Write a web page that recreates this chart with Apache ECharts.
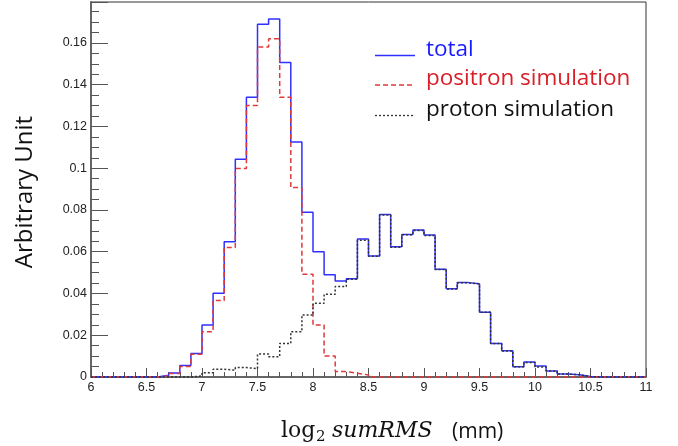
<!DOCTYPE html>
<html>
<head>
<meta charset="utf-8">
<script src="https://cdn.jsdelivr.net/npm/echarts@6/dist/echarts.min.js"></script>
<style>
html,body{margin:0;padding:0;background:#fff;}
#chart{width:678px;height:446px;}
</style>
</head>
<body>
<div id="chart"></div>
<script>
// Bin lower edges (bin width 0.1) from 6.0 to 10.9, upper edge of last bin 11.0
const binLow = [6.0,6.1,6.2,6.3,6.4,6.5,6.6,6.7,6.8,6.9,
                7.0,7.1,7.2,7.3,7.4,7.5,7.6,7.7,7.8,7.9,
                8.0,8.1,8.2,8.3,8.4,8.5,8.6,8.7,8.8,8.9,
                9.0,9.1,9.2,9.3,9.4,9.5,9.6,9.7,9.8,9.9,
                10.0,10.1,10.2,10.3,10.4,10.5,10.6,10.7,10.8,10.9];
const lastEdge = 11.0;

const totalVals = [0,0,0,0,0,0,0.0008,0.0019,0.0055,0.0113,
                   0.0249,0.0401,0.0648,0.1043,0.134,0.169,0.1715,0.1506,0.1126,0.0789,
                   0.060,0.0490,0.0460,0.0470,0.0661,0.0580,0.0778,0.0624,0.0683,0.0704,
                   0.0680,0.0516,0.0423,0.0452,0.0447,0.0310,0.0161,0.0126,0.0049,0.0072,
                   0.0053,0.0029,0.0014,0.0011,0.0002,0,0,0,0,0];

const positronVals = [0,0,0,0,0,0,0.0006,0.0017,0.0050,0.0109,
                      0.0217,0.0366,0.0620,0.0998,0.130,0.158,0.162,0.134,0.0907,0.0492,
                      0.0249,0.0100,0.0026,0.0018,0.0010,0,0,0,0,0,
                      0,0,0,0,0,0,0,0,0,0,
                      0,0,0,0,0,0,0,0,0,0];

const protonVals = [0,0,0,0,0,0,0,0,0,0.0005,
                    0.0020,0.0037,0.0033,0.0045,0.0040,0.0110,0.0097,0.0161,0.0217,0.0297,
                    0.0353,0.0396,0.0433,0.0468,0.0655,0.0578,0.0776,0.0622,0.0681,0.0702,
                    0.0678,0.0515,0.0422,0.0451,0.0446,0.0310,0.0160,0.0125,0.0049,0.0070,
                    0.0048,0.0029,0.0014,0.0011,0.0002,0,0,0,0,0];

const seriesNames = ['total', 'positron simulation', 'proton simulation'];
const seriesColors = ['#3030ff', '#e03a3a', '#333333'];
const legendTextColors = ['#1a1aff', '#d9202a', '#111111'];

const xTicks = {min: 6, max: 11, interval: 0.5};
const yTicks = {min: 0, max: 0.1796, interval: 0.02};

function histData(vals) {
  const d = binLow.map((x, i) => [x, vals[i]]);
  d.push([lastEdge, vals[vals.length - 1]]);
  return d;
}

const chart = echarts.init(document.getElementById('chart'), null, {renderer: 'canvas'});

const labelFont = {fontFamily: 'Liberation Sans, Helvetica, Arial', fontSize: 12.5, color: '#222'};
const dashes = [null, [5, 3], [2, 2]];

// legend drawn as graphic (line sample + coloured text)
const legendRows = [{lineY: 55.5, textY: 50}, {lineY: 85, textY: 79}, {lineY: 115.5, textY: 110}];
const legendGraphics = [];
seriesNames.forEach((n, i) => {
  legendGraphics.push({type: 'line', shape: {x1: 375, y1: legendRows[i].lineY, x2: 415, y2: legendRows[i].lineY},
    style: {stroke: seriesColors[i], lineWidth: 1.3, lineDash: dashes[i]}});
  legendGraphics.push({type: 'text', x: 426, y: legendRows[i].textY,
    style: {text: n, font: '22.5px "Open Sans", Lato, sans-serif', fill: legendTextColors[i], verticalAlign: 'middle', align: 'left'}});
});

chart.setOption({
  animation: false,
  backgroundColor: '#fff',
  grid: {left: 91, right: 32, top: 2, bottom: 69, show: true, borderColor: '#333', borderWidth: 1, backgroundColor: 'transparent'},
  xAxis: {
    type: 'value', min: xTicks.min, max: xTicks.max, interval: xTicks.interval,
    axisLine: {show: true, lineStyle: {color: '#666', width: 2}},
    axisTick: {show: true, inside: true, length: 9, lineStyle: {color: '#555', width: 1}},
    minorTick: {show: true, splitNumber: 5, length: 5, lineStyle: {color: '#555', width: 1}},
    splitLine: {show: false},
    axisLabel: Object.assign({margin: 4, formatter: v => String(v)}, labelFont)
  },
  yAxis: {
    type: 'value', min: yTicks.min, max: yTicks.max, interval: yTicks.interval,
    axisLine: {show: true, lineStyle: {color: '#666', width: 2}},
    axisTick: {show: true, inside: true, length: 17, lineStyle: {color: '#555', width: 1}},
    minorTick: {show: true, splitNumber: 4, length: 8, lineStyle: {color: '#555', width: 1}},
    splitLine: {show: false},
    axisLabel: Object.assign({margin: 4, showMaxLabel: false, formatter: v => String(+v.toFixed(4))}, labelFont)
  },
  series: [
    {name: seriesNames[0], type: 'line', step: 'end', symbol: 'none', clip: false,
     data: histData(totalVals), lineStyle: {color: seriesColors[0], width: 1.5}, itemStyle: {color: seriesColors[0]}},
    {name: seriesNames[1], type: 'line', step: 'end', symbol: 'none', clip: false,
     data: histData(positronVals), lineStyle: {color: seriesColors[1], width: 1.5, type: dashes[1]}, itemStyle: {color: seriesColors[1]}},
    {name: seriesNames[2], type: 'line', step: 'end', symbol: 'none', clip: false,
     data: histData(protonVals), lineStyle: {color: seriesColors[2], width: 1.5, type: dashes[2]}, itemStyle: {color: seriesColors[2]}}
  ],
  graphic: legendGraphics.concat([
    {type: 'text', x: 25, y: 192, rotation: Math.PI / 2,
     style: {text: 'Arbitrary Unit', font: '24px "Open Sans", Lato, sans-serif', fill: '#111', align: 'center', verticalAlign: 'middle'}},
    {type: 'text', x: 281, y: 431, style: {text: 'log', font: '22px "DejaVu Serif", serif', fill: '#111', verticalAlign: 'middle'}},
    {type: 'text', x: 316, y: 437, style: {text: '2', font: '15px "DejaVu Serif", serif', fill: '#111', verticalAlign: 'middle'}},
    {type: 'text', x: 332, y: 431, style: {text: 'sumRMS', font: 'italic 22px "DejaVu Serif", serif', fill: '#111', verticalAlign: 'middle'}},
    {type: 'text', x: 452, y: 432, style: {text: '(mm)', font: '21px "Open Sans", sans-serif', fill: '#111', verticalAlign: 'middle'}}
  ])
});
</script>
</body>
</html>
